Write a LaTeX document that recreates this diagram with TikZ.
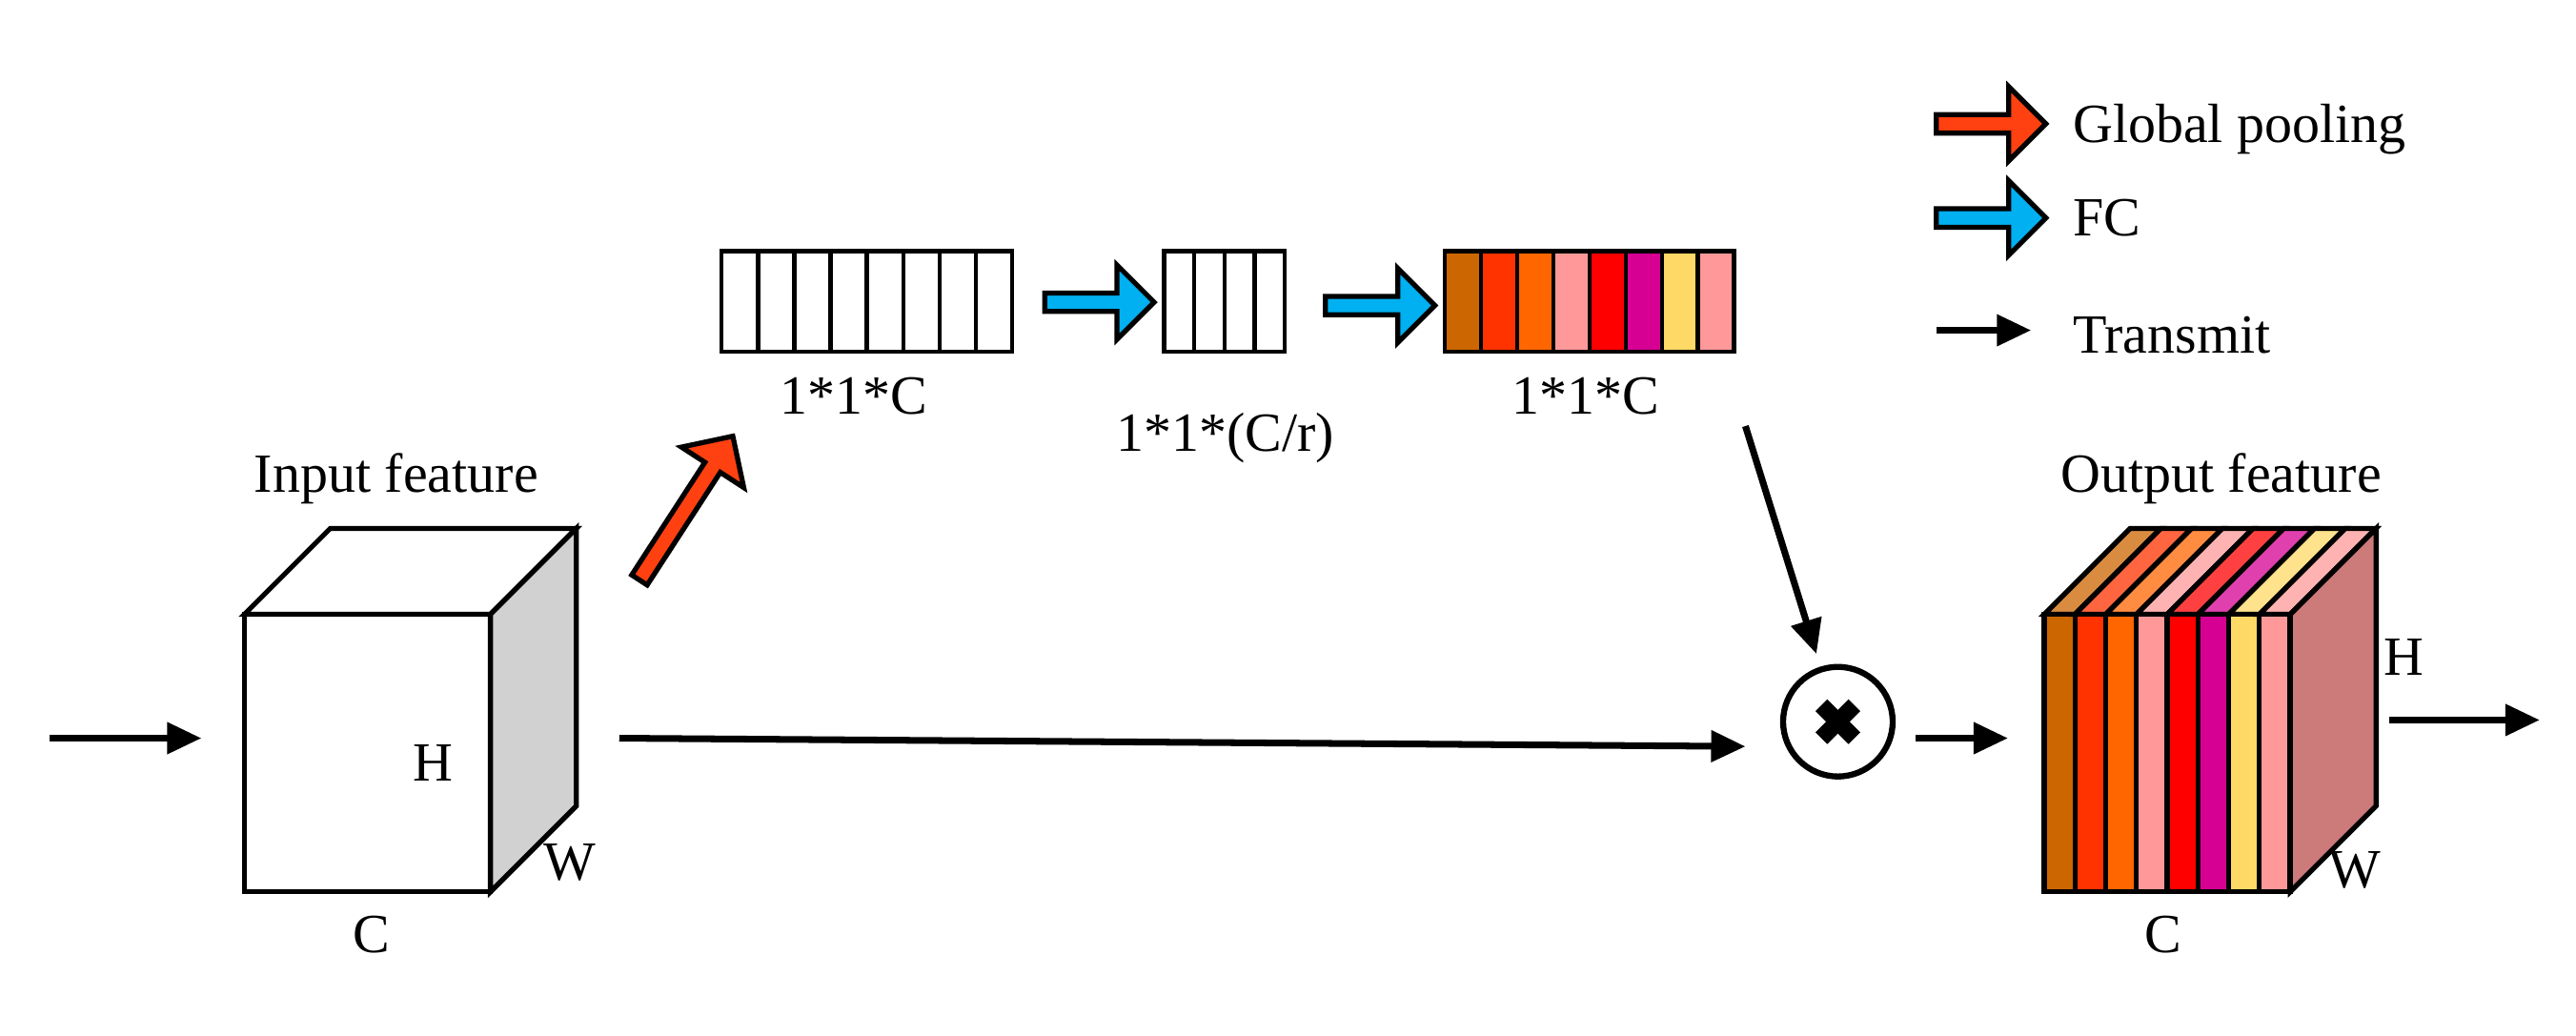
\documentclass[tikz,border=0pt]{standalone}
\usepackage{fontspec}
\setmainfont{Liberation Serif}
\newfontfamily\timesfont{Liberation Serif}
\usetikzlibrary{shapes.arrows,positioning,arrows.meta}
\definecolor{poolred}{RGB}{255,64,16}
\definecolor{fcblue}{RGB}{0,176,240}
\definecolor{chA}{HTML}{CC6600}
\definecolor{chB}{HTML}{FF3300}
\definecolor{chC}{HTML}{FF6600}
\definecolor{chD}{HTML}{FF9999}
\definecolor{chE}{HTML}{FF0000}
\definecolor{chF}{HTML}{D60093}
\definecolor{chG}{HTML}{FFD966}
\definecolor{chH}{HTML}{FF9999}
\definecolor{sidepink}{HTML}{CC7A7A}
\tikzstyle{draw:cell}=[draw=black,line width=1.3pt]
\tikzstyle{draw:face}=[draw=black,line width=1.5pt,line join=miter]
\tikzstyle{draw:transmit}=[-{Triangle[length=0.36cm,width=0.32cm]},line width=2pt]
\tikzstyle{node:block}=[single arrow,draw=black,line width=1.5pt,minimum height=1.15cm,minimum width=0.78cm,single arrow head extend=0.08cm,inner sep=0pt]
\tikzstyle{node:label}=[font=\timesfont\fontsize{16.5}{18}\selectfont,inner sep=1pt]
\begin{document}
\begin{tikzpicture}[x=0.017327cm,y=-0.017327cm]
        \useasboundingbox (0,0) rectangle (1560,627);

        % Input feature cube
        \fill[white] (148,372) rectangle (297,540);
        \draw[draw:face,fill=white] (148,372) -- (200,320) -- (349,320) -- (297,372) -- cycle;
        \draw[draw:face,fill=black!18] (297,372) -- (349,320) -- (349,488) -- (297,540) -- cycle;
        \draw[draw:face] (148,372) rectangle (297,540);
        \node[node:label] (intitle) at (240,290) {Input feature};
        \node[node:label] (inH) at (262,462) {H};
        \node[node:label] (inW) at (345,522) {W};
        \node[node:label] (inC) at (225,566) {C};

        % Bars
        \foreach \i in {0,...,7} \draw[draw:cell,fill=white] (437+22*\i,152) rectangle (459+22*\i,213);
        \foreach \i in {0,...,3} \draw[draw:cell,fill=white] (705+18.25*\i,152) rectangle (723.25+18.25*\i,213);
        \foreach \c [count=\i from 0] in {chA,chB,chC,chD,chE,chF,chG,chH}
            \draw[draw:cell,fill=\c] (875+21.9*\i,152) rectangle (896.9+21.9*\i,213);
        \node[node:label] (labA) at (517,240) {1*1*C};
        \node[node:label] (labB) at (742,265) {1*1*(C/r)};
        \node[node:label] (labC) at (960,240) {1*1*C};

        % Block arrows
        \node[node:block,fill=poolred,rotate=57,minimum height=1.8cm] (pool) at (414,310) {};
        \node[node:block,fill=fcblue] (fcA) at (663,183) {};
        \node[node:block,fill=fcblue] (fcB) at (833,185) {};

        % Multiplication
        \node[circle,draw,line width=1.8pt,minimum size=1.15cm] (mul) at (1113,437) {};
        \draw[line width=5pt] ([shift={(-10,-10)}]mul.center) -- ([shift={(10,10)}]mul.center);
        \draw[line width=5pt] ([shift={(-10,10)}]mul.center) -- ([shift={(10,-10)}]mul.center);

        % Output feature cube
        \foreach \c [count=\i from 0] in {chA,chB,chC,chD,chE,chF,chG,chH} {
            \draw[draw:face,fill=\c!75!white] (1238+18.6*\i,372) -- (1290+18.6*\i,320) -- (1308.6+18.6*\i,320) -- (1256.6+18.6*\i,372) -- cycle;
            \draw[draw:face,fill=\c] (1238+18.6*\i,372) rectangle (1256.6+18.6*\i,540);
        }
        \draw[draw:face,fill=sidepink] (1387,372) -- (1439,320) -- (1439,488) -- (1387,540) -- cycle;
        \draw[draw:face] (1238,372) rectangle (1387,540);
        \node[node:label] (outtitle) at (1345,290) {Output feature};
        \node[node:label] (outH) at (1456,398) {H};
        \node[node:label] (outW) at (1426,527) {W};
        \node[node:label] (outC) at (1310,566) {C};

        % Transmit arrows
        \coordinate (start) at (30,447);
        \coordinate (inL) at (122,447);
        \coordinate (inR) at (375,447);
        \coordinate (mulIn) at (1057,452);
        \coordinate (barC) at (1057,258);
        \coordinate (mulTop) at (1100,396);
        \coordinate (mulOut) at (1160,447);
        \coordinate (outL) at (1216,447);
        \coordinate (outR) at (1447,436);
        \coordinate (finish) at (1538,436);
        \draw[draw:transmit] (start) -- (inL);
        \draw[draw:transmit] (inR) -- (mulIn);
        \draw[draw:transmit] (barC) -- (mulTop);
        \draw[draw:transmit] (mulOut) -- (outL);
        \draw[draw:transmit] (outR) -- (finish);

        % Legend
        \node[node:block,fill=poolred] (legA) at (1203,75) {};
        \node[node:block,fill=fcblue] (legB) at (1203,132) {};
        \coordinate (legC1) at (1173,200);
        \coordinate (legC2) at (1230,200);
        \draw[draw:transmit] (legC1) -- (legC2);
        \node[node:label,anchor=west] (txtA) at (1253,78) {Global pooling};
        \node[node:label,anchor=west] (txtB) at (1253,132) {FC};
        \node[node:label,anchor=west] (txtC) at (1253,203) {Transmit};
    \end{tikzpicture}
\end{document}
